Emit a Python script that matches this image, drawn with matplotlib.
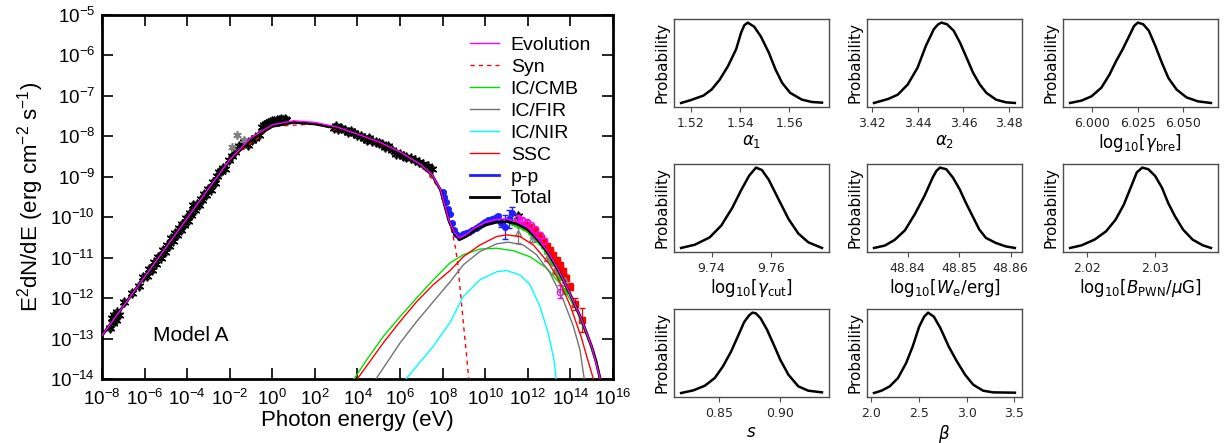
import numpy as np
import matplotlib.pyplot as plt
from matplotlib.lines import Line2D

plt.rcParams['font.family'] = ['Liberation Sans', 'DejaVu Sans']

# ---- SED model curves (log10 E [eV], log10 E^2dN/dE [erg cm^-2 s^-1]) ----
total_logE = [-8.0, -7.0, -6.0, -5.0, -4.0, -3.0, -2.0, -1.0, 0.0, 1.0, 2.0, 3.0, 4.0, 5.0, 6.0, 6.5,
              7.0, 7.5, 7.9, 8.1, 8.3, 8.55, 8.78, 9.1, 9.5, 10.0, 10.5, 11.0, 11.5, 12.0, 12.5,
              13.0, 13.5, 14.0, 14.5, 15.0, 15.2, 15.4]
total_logF = [-12.93, -12.2, -11.48, -10.76, -10.03, -9.31, -8.6, -8.08, -7.76, -7.66, -7.7, -7.8,
              -7.97, -8.15, -8.4, -8.55, -8.72, -8.96, -9.33, -9.72, -10.1, -10.4, -10.56, -10.48,
              -10.33, -10.2, -10.13, -10.11, -10.17, -10.3, -10.58, -10.92, -11.38, -11.92, -12.5,
              -13.2, -13.55, -14.0]

evo_logE = [-8.0, -6.0, -4.0, -2.0, -1.0, 0.0, 1.0, 2.0, 3.0, 4.0, 5.0, 6.0, 7.0, 7.5, 7.9, 8.1,
            8.3, 8.55, 8.78, 9.1, 9.5, 10.0, 10.5, 11.0, 11.5, 12.0, 12.5, 13.0, 13.5, 14.0, 14.5,
            15.0, 15.4]
evo_logF = [-12.93, -11.48, -10.03, -8.58, -8.04, -7.72, -7.62, -7.66, -7.77, -7.95, -8.14, -8.39,
            -8.71, -8.95, -9.32, -9.7, -10.08, -10.38, -10.52, -10.43, -10.27, -10.13, -10.06,
            -10.04, -10.12, -10.26, -10.55, -10.9, -11.37, -11.92, -12.5, -13.2, -14.0]

syn_logE = [-8.0, -6.0, -4.0, -2.0, 0.0, 2.0, 4.0, 6.0, 7.0, 7.9, 8.3, 8.45, 8.6, 8.7, 8.8, 8.97,
            9.13, 9.24]
syn_logF = [-12.93, -11.48, -10.03, -8.6, -7.76, -7.7, -7.97, -8.4, -8.72, -9.33, -10.12, -10.38,
            -10.75, -11.1, -11.65, -12.6, -13.45, -14.1]

cmb_logE = [3.84, 4.43, 5.21, 6.0, 6.78, 7.56, 8.35, 8.97, 9.75, 10.54, 11.32, 12.1, 12.89, 13.67,
            14.3, 14.92, 15.2, 15.38]
cmb_logF = [-14.0, -13.53, -12.95, -12.46, -12.0, -11.55, -11.13, -10.93, -10.79, -10.77, -10.83,
            -10.98, -11.26, -11.75, -12.32, -13.15, -13.62, -14.0]

ssc_logE = [3.99, 5.21, 6.0, 6.78, 7.56, 8.35, 8.97, 9.75, 10.54, 11.0, 11.63, 12.26, 13.0, 13.5,
            14.0, 14.5, 14.8, 15.08]
ssc_logF = [-14.0, -13.11, -12.58, -12.09, -11.67, -11.32, -10.98, -10.69, -10.48, -10.44, -10.48,
            -10.69, -11.15, -11.6, -12.2, -12.95, -13.5, -14.0]

fir_logE = [4.87, 6.0, 6.78, 7.56, 8.35, 8.97, 9.75, 10.54, 11.08, 11.79, 12.41, 13.04, 13.67,
            14.14, 14.45, 14.65]
fir_logF = [-14.0, -13.11, -12.58, -12.09, -11.6, -11.18, -10.85, -10.66, -10.62, -10.69, -10.93,
            -11.38, -12.05, -12.7, -13.28, -14.0]

nir_logE = [6.28, 7.56, 8.35, 8.97, 9.75, 10.54, 11.0, 11.63, 12.1, 12.57, 12.96, 13.23, 13.33]
nir_logF = [-14.0, -13.19, -12.6, -11.96, -11.55, -11.35, -11.32, -11.43, -11.67, -12.21, -12.87,
            -13.53, -14.0]

# ---- SED data points ----
black_logE = [-7.62, -7.55, -7.48, -7.42, -7.35, -7.28, -7.2, -6.95, -6.6, -6.25, -6.05, -5.9, -5.78,
              -5.66, -5.55, -5.45, -5.35, -5.25, -5.15, -5.05, -4.95, -4.85, -4.75, -4.66, -4.57,
              -4.48, -4.4, -4.3, -4.22, -4.13, -4.05, -3.96, -3.88, -3.8, -3.72, -3.63, -3.55, -3.45,
              -3.37, -3.28, -3.2, -3.1, -3.0, -2.9, -2.8, -2.7, -2.6, -2.5, -2.42, -2.3, -2.2, -2.05,
              -1.9, -1.75, -1.55, -1.35, -1.15, -0.95, -0.8, -0.62, -0.5, -0.4, -0.3, -0.2, -0.1, 0.0,
              0.1, 0.2, 0.3, 0.4, 0.5, 0.6, 0.65,
              2.9, 3.0, 3.1, 3.25, 3.4, 3.55, 3.7, 3.85, 4.0, 4.15, 4.3, 4.45, 4.55, 4.7, 4.85, 5.0,
              5.15, 5.3, 5.45, 5.6, 5.8, 6.0, 6.15, 6.3, 6.5, 6.7, 6.9, 7.1, 7.3, 7.5, 11.55]
black_logF = [-12.75, -12.5, -12.62, -12.42, -12.55, -12.35, -12.42, -12.1, -11.88, -11.7, -11.48,
              -11.45, -11.28, -11.3, -11.12, -11.15, -10.98, -11.0, -10.82, -10.86, -10.7, -10.72,
              -10.52, -10.58, -10.4, -10.45, -10.28, -10.33, -10.16, -10.2, -10.02, -10.1, -9.9,
              -9.95, -9.7, -9.83, -9.68, -9.7, -9.55, -9.58, -9.42, -9.45, -9.3, -9.32, -9.14, -9.16,
              -8.98, -8.88, -8.85, -8.78, -8.8, -8.6, -8.48, -8.38, -8.25, -8.15, -8.22, -8.1, -8.05,
              -7.98, -7.78, -7.72, -7.7, -7.68, -7.65, -7.63, -7.62, -7.6, -7.6, -7.58, -7.6, -7.57,
              -7.6,
              -7.8, -7.75, -7.82, -7.8, -7.85, -7.9, -7.88, -7.92, -7.97, -8.0, -8.05, -8.1, -8.05,
              -8.12, -8.15, -8.17, -8.2, -8.28, -8.25, -8.35, -8.45, -8.45, -8.5, -8.52, -8.55, -8.6,
              -8.65, -8.7, -8.75, -8.8, -9.98]
black_err = 0.07

grey_logE = [-1.91, -1.67, -1.32]
grey_logF = [-8.26, -7.97, -8.09]

blue_logE = [8.0, 8.08, 8.15, 8.25, 8.33, 8.45, 8.55, 8.65, 8.8, 8.95, 9.1, 9.25, 9.4, 9.55, 9.7,
             9.85, 10.0, 10.15, 10.3, 10.45, 10.6, 10.75, 10.95, 11.1, 11.25]
blue_logF = [-9.38, -9.5, -9.62, -9.8, -9.92, -10.15, -10.32, -10.42, -10.46, -10.43, -10.4, -10.36,
             -10.32, -10.28, -10.22, -10.18, -10.12, -10.08, -10.05, -10.02, -9.98, -10.15, -10.25,
             -10.05, -9.9]
blue_err = [0.02, 0.02, 0.02, 0.02, 0.02, 0.02, 0.02, 0.02, 0.02, 0.02, 0.02, 0.02, 0.02, 0.03,
            0.03, 0.03, 0.04, 0.04, 0.05, 0.05, 0.06, 0.1, 0.3, 0.22, 0.15]

green_logE = [11.3, 11.45, 11.6, 11.8, 12.0, 12.15, 12.3, 12.45, 12.6, 12.75, 12.9, 13.05, 13.2,
              13.35, 13.5, 13.75]
green_logF = [-10.12, -10.15, -10.2, -10.25, -10.3, -10.38, -10.45, -10.55, -10.62, -10.72, -10.85,
              -10.98, -11.12, -11.3, -11.48, -11.82]

red_logE = [11.9, 12.05, 12.2, 12.35, 12.5, 12.6, 12.75, 12.9, 13.05, 13.2, 13.35, 13.5, 13.65,
            13.8, 14.0, 14.2, 14.55]
red_logF = [-10.2, -10.25, -10.3, -10.35, -10.45, -10.52, -10.62, -10.72, -10.82, -10.93, -11.05,
            -11.18, -11.32, -11.5, -11.72, -12.15, -12.55]
red_err = [0.03, 0.03, 0.03, 0.03, 0.03, 0.03, 0.03, 0.03, 0.04, 0.04, 0.04, 0.05, 0.05, 0.06,
           0.08, 0.15, 0.3]

mag_logE = [11.55, 11.75, 11.95, 12.15, 12.35, 12.55, 12.75, 13.5]
mag_logF = [-10.02, -10.07, -10.12, -10.2, -10.3, -10.45, -10.58, -11.84]
mag_err = [0.04, 0.04, 0.04, 0.04, 0.05, 0.05, 0.06, 0.17]

tri_logE = [11.55, 12.2, 12.9, 13.3, 13.75]
tri_logF = [-10.4, -10.55, -11.0, -11.3, -11.55]
tri_err = [0.25, 0.06, 0.08, 0.1, 0.15]

# ---- posterior distributions ----
post_labels = [r'$\alpha_1$', r'$\alpha_2$', r'${\rm log}_{10}[\gamma_{\rm bre}]$',
               r'${\rm log}_{10}[\gamma_{\rm cut}]$', r'${\rm log}_{10}[W_{\rm e}/{\rm erg}]$',
               r'${\rm log}_{10}[B_{\rm PWN}/\mu{\rm G}]$', r'$s$', r'$\beta$']
post_ticks = [[1.52, 1.54, 1.56], [3.42, 3.44, 3.46, 3.48], [6.000, 6.025, 6.050],
              [9.74, 9.76], [48.84, 48.85, 48.86], [2.02, 2.03], [0.85, 0.90],
              [2.0, 2.5, 3.0, 3.5]]
post_ticklabels = [['1.52', '1.54', '1.56'], ['3.42', '3.44', '3.46', '3.48'],
                   ['6.000', '6.025', '6.050'], ['9.74', '9.76'], ['48.84', '48.85', '48.86'],
                   ['2.02', '2.03'], ['0.85', '0.90'], ['2.0', '2.5', '3.0', '3.5']]

a1_x = [1.516, 1.5197, 1.5251, 1.5284, 1.5317, 1.5351, 1.5384, 1.5404, 1.5417, 1.5431, 1.5457,
        1.5484, 1.5517, 1.5544, 1.5571, 1.5604, 1.5651, 1.5691, 1.5733]
a1_p = [0.0, 0.033, 0.092, 0.167, 0.29, 0.46, 0.67, 0.875, 0.967, 1.0, 0.95, 0.83, 0.625, 0.417,
        0.25, 0.125, 0.042, 0.0125, 0.004]

a2_x = [3.421, 3.4272, 3.4314, 3.4357, 3.44, 3.4436, 3.4471, 3.449, 3.4504, 3.4528, 3.4557, 3.4585,
        3.4614, 3.4642, 3.4671, 3.47, 3.4743, 3.4785, 3.4824]
a2_p = [0.0, 0.05, 0.104, 0.23, 0.44, 0.71, 0.92, 0.98, 1.0, 0.98, 0.9, 0.75, 0.56, 0.375, 0.23,
        0.125, 0.04, 0.008, 0.0]

gbre_x = [5.9877, 5.9941, 5.9995, 6.0049, 6.0094, 6.013, 6.0166, 6.0202, 6.0229, 6.025, 6.0279,
          6.031, 6.0346, 6.0382, 6.0418, 6.0463, 6.0517, 6.058, 6.0652]
gbre_p = [0.0, 0.03, 0.083, 0.19, 0.354, 0.52, 0.667, 0.833, 0.958, 1.0, 0.98, 0.9, 0.71, 0.5, 0.31,
          0.167, 0.07, 0.02, 0.0]

gcut_x = [9.7297, 9.7343, 9.7393, 9.7433, 9.747, 9.75, 9.7527, 9.755, 9.757, 9.7593, 9.7627, 9.766,
          9.7693, 9.7727, 9.7773]
gcut_p = [0.0, 0.04, 0.13, 0.28, 0.5, 0.72, 0.9, 1.0, 0.97, 0.85, 0.6, 0.36, 0.18, 0.07, 0.0]

we_x = [48.8335, 48.8356, 48.8375, 48.8395, 48.8414, 48.8433, 48.8449, 48.8456, 48.8463, 48.8475,
        48.8488, 48.8501, 48.8513, 48.8526, 48.8539, 48.8552, 48.8571, 48.859, 48.8608]
we_p = [0.0, 0.03, 0.1, 0.22, 0.42, 0.65, 0.88, 0.96, 1.0, 0.98, 0.875, 0.73, 0.5625, 0.396, 0.23,
        0.125, 0.0625, 0.02, 0.0]

bpwn_x = [2.0175, 2.0192, 2.0211, 2.0228, 2.0242, 2.0254, 2.0264, 2.0273, 2.0281, 2.029, 2.03,
          2.031, 2.0319, 2.0329, 2.0341, 2.0355, 2.037, 2.0382]
bpwn_p = [0.0, 0.033, 0.104, 0.208, 0.354, 0.54, 0.75, 0.94, 1.0, 0.98, 0.896, 0.75, 0.5625, 0.396,
          0.229, 0.104, 0.033, 0.0]

s_x = [0.8195, 0.8295, 0.8388, 0.8468, 0.8534, 0.8601, 0.8654, 0.8707, 0.8747, 0.8774, 0.8801,
       0.884, 0.8893, 0.8947, 0.9, 0.9066, 0.9146, 0.9226, 0.9338]
s_p = [0.0, 0.033, 0.091, 0.186, 0.33, 0.517, 0.7, 0.884, 0.967, 1.0, 0.992, 0.93, 0.785, 0.6,
       0.413, 0.227, 0.083, 0.029, 0.008]

beta_x = [2.031, 2.11, 2.196, 2.282, 2.367, 2.436, 2.504, 2.556, 2.597, 2.658, 2.727, 2.813, 2.899,
          2.985, 3.07, 3.173, 3.276, 3.506]
beta_p = [0.0, 0.029, 0.083, 0.186, 0.372, 0.579, 0.826, 0.95, 1.0, 0.95, 0.806, 0.579, 0.393,
          0.227, 0.103, 0.029, 0.008, 0.004]

post_x = [a1_x, a2_x, gbre_x, gcut_x, we_x, bpwn_x, s_x, beta_x]
post_p = [a1_p, a2_p, gbre_p, gcut_p, we_p, bpwn_p, s_p, beta_p]


def lin(v):
    return 10.0 ** np.asarray(v, dtype=float)


def logerr(logF, err):
    f = lin(logF)
    e = np.asarray(err, dtype=float) * np.ones_like(f)
    return [f - f / 10 ** e, f * 10 ** e - f]


fig = plt.figure(figsize=(12.24, 4.43), dpi=100)

# ---------------- SED panel ----------------
ax = fig.add_axes([0.0833, 0.1445, 0.4175, 0.8223])
ax.set_xscale('log')
ax.set_yscale('log')

ax.errorbar(lin(black_logE), lin(black_logF), yerr=logerr(black_logF, black_err), fmt='none',
            ecolor='black', elinewidth=0.8, capsize=1.5, zorder=2)
ax.plot(lin(black_logE), lin(black_logF), ls='none', marker=(6, 2, 0), ms=7, mec='black',
        mew=1.1, zorder=2)
ax.plot(lin(grey_logE), lin(grey_logF), ls='none', marker=(6, 2, 0), ms=6, mec='0.5', mew=1.2,
        zorder=2)
ax.errorbar(lin(blue_logE), lin(blue_logF), yerr=logerr(blue_logF, blue_err), fmt='o', ms=4,
            color='#1f1fff', elinewidth=0.9, capsize=2, zorder=2)
ax.plot(lin(green_logE), lin(green_logF), 'o', ms=4.5, color='#00dd00', zorder=2)
ax.errorbar(lin(red_logE), lin(red_logF), yerr=logerr(red_logF, red_err), fmt='s', ms=4,
            color='red', elinewidth=0.9, capsize=2, zorder=2)
ax.errorbar(lin(mag_logE), lin(mag_logF), yerr=logerr(mag_logF, mag_err), fmt='o', ms=4.5,
            mfc='none', mec='magenta', ecolor='magenta', elinewidth=0.9, capsize=2, zorder=2)
ax.errorbar(lin(tri_logE), lin(tri_logF), yerr=logerr(tri_logF, tri_err), fmt='^', ms=4.5,
            mfc='none', mec='0.5', ecolor='0.5', elinewidth=0.9, capsize=2, zorder=2)

l_syn, = ax.plot(lin(syn_logE), lin(syn_logF), color='red', lw=1.0, ls=(0, (3, 3)), zorder=3)
l_cmb, = ax.plot(lin(cmb_logE), lin(cmb_logF), color='#00e000', lw=1.0, zorder=3)
l_fir, = ax.plot(lin(fir_logE), lin(fir_logF), color='0.45', lw=1.0, zorder=3)
l_nir, = ax.plot(lin(nir_logE), lin(nir_logF), color='cyan', lw=1.0, zorder=3)
l_ssc, = ax.plot(lin(ssc_logE), lin(ssc_logF), color='red', lw=1.0, zorder=3)
l_tot, = ax.plot(lin(total_logE), lin(total_logF), color='black', lw=2.0, zorder=4)
l_evo, = ax.plot(lin(evo_logE), lin(evo_logF), color='magenta', lw=1.0, zorder=5)
l_pp = Line2D([], [], color='#1f1fff', lw=2.0)

ax.set_xlim(1e-8, 1e16)
ax.set_ylim(1e-14, 1e-5)
ax.set_xticks(lin(np.arange(-8, 17, 2)))
ax.set_yticks(lin(np.arange(-14, -4, 1)))
ax.xaxis.set_minor_locator(plt.NullLocator())
ax.tick_params(which='both', direction='in', top=True, right=True, labelsize=13.5)
ax.tick_params(which='major', length=8, width=1.2)
ax.tick_params(which='minor', length=4, width=0.8)
ax.tick_params(axis='x', pad=7)
ax.tick_params(axis='y', pad=5)
for sp in ax.spines.values():
    sp.set_linewidth(2.0)

ax.set_xlabel('Photon energy (eV)', fontsize=16, labelpad=1)
ax.set_ylabel(r'E$^{\mathdefault{2}}$dN/dE (erg cm$^{\mathdefault{-2}}$ s$^{\mathdefault{-1}}$)',
              fontsize=16, labelpad=3)
ax.text(0.1, 0.12, 'Model A', transform=ax.transAxes, fontsize=15, va='center')

ax.legend([l_evo, l_syn, l_cmb, l_fir, l_nir, l_ssc, l_pp, l_tot],
          ['Evolution', 'Syn', 'IC/CMB', 'IC/FIR', 'IC/NIR', 'SSC', 'p-p', 'Total'],
          loc='upper left', bbox_to_anchor=(0.72, 0.94), frameon=False, fontsize=14,
          handlelength=1.5, handletextpad=0.6, labelspacing=0.22, borderpad=0, borderaxespad=0)

# ---------------- posterior panels ----------------
col_left = [0.5507, 0.7083, 0.8685]
col_w = 0.1266
row_bottom = [0.7585, 0.4312, 0.1038]
row_h = 0.1995

for i in range(8):
    r, c = divmod(i, 3)
    pax = fig.add_axes([col_left[c], row_bottom[r], col_w, row_h])
    pax.plot(post_x[i], post_p[i], color='black', lw=1.8)
    pax.set_yticks([])
    pax.set_xticks(post_ticks[i])
    pax.set_xticklabels(post_ticklabels[i])
    pax.tick_params(axis='x', labelsize=9, labelfontfamily='DejaVu Sans', color='0.3',
                    labelcolor='0.15', length=3.5, width=0.8)
    for sp in pax.spines.values():
        sp.set_color('0.3')
        sp.set_linewidth(1.0)
    pax.set_ylabel('Probability', fontsize=11, fontfamily='DejaVu Sans', labelpad=3)
    pax.set_xlabel(post_labels[i], fontsize=12, fontfamily='DejaVu Sans',
                   math_fontfamily='dejavusans', labelpad=2)

fig.savefig('out.png', dpi=100)
